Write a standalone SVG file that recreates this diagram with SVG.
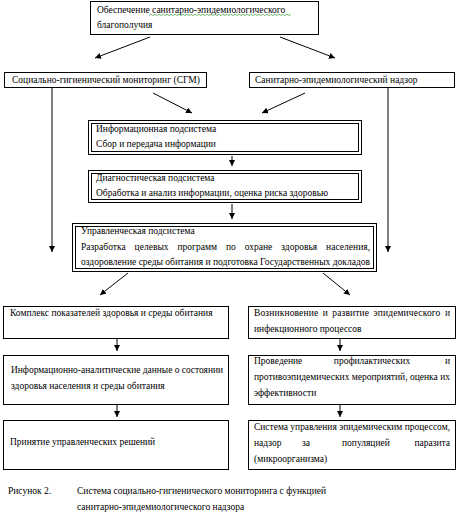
<svg xmlns="http://www.w3.org/2000/svg" width="458" height="514" viewBox="0 0 458 514">
<style>
.b{fill:#fff;stroke:#000;stroke-width:1}
.bi{fill:none;stroke:#000;stroke-width:1}
.t{font-family:"Liberation Serif","Times New Roman",serif;font-size:9.5px;fill:#000}
.e{text-anchor:end}
.m{text-anchor:middle}
.c{stroke:#000;stroke-width:1;fill:none;marker-end:url(#ah)}
</style>
<defs>
<marker id="ah" markerUnits="userSpaceOnUse" markerWidth="7" markerHeight="7" refX="6" refY="3" orient="auto">
<path d="M0,0 L6,3 L0,6 Z" fill="#000"/>
</marker>
</defs>
<rect width="458" height="514" fill="#fff"/>
<g id="connectors">
<line class="c" x1="150" y1="37" x2="95" y2="58"/>
<line class="c" x1="280" y1="37" x2="335" y2="58"/>
<line class="c" x1="153" y1="93" x2="192" y2="113"/>
<line class="c" x1="305" y1="93" x2="262" y2="113"/>
<line class="c" x1="52" y1="88" x2="52" y2="252"/>
<line class="c" x1="388" y1="88" x2="388" y2="252"/>
<line class="c" x1="232" y1="156" x2="232" y2="166"/>
<line class="c" x1="232" y1="204" x2="232" y2="219"/>
<line class="c" x1="128" y1="273" x2="100" y2="295"/>
<line class="c" x1="323" y1="273" x2="350" y2="295"/>
<line class="c" x1="117" y1="339" x2="117" y2="351"/>
<line class="c" x1="340" y1="339" x2="340" y2="351"/>
<line class="c" x1="117" y1="405" x2="117" y2="417"/>
<line class="c" x1="340" y1="405" x2="340" y2="417"/>
</g>
<g id="top">
<rect class="b" x="90.5" y="1.5" width="228" height="33"/>
<text class="t" x="97" y="13">Обеспечение санитарно-эпидемиологического</text>
<path d="M149,15.5 l2,-1.2 l2,1.2 l2,-1.2 l2,1.2 l2,-1.2 l2,1.2 l2,-1.2 l2,1.2 l2,-1.2 l2,1.2 l2,-1.2 l2,1.2 l2,-1.2 l2,1.2 l2,-1.2 l2,1.2 l2,-1.2 l2,1.2 l2,-1.2 l2,1.2 l2,-1.2 l2,1.2 l2,-1.2 l2,1.2 l2,-1.2 l2,1.2 l2,-1.2 l2,1.2 l2,-1.2 l2,1.2 l2,-1.2 l2,1.2 l2,-1.2 l2,1.2 l2,-1.2 l2,1.2 l2,-1.2 l2,1.2 l2,-1.2 l2,1.2 l2,-1.2 l2,1.2 l2,-1.2 l2,1.2 l2,-1.2 l2,1.2 l2,-1.2 l2,1.2 l2,-1.2 l2,1.2 l2,-1.2 l2,1.2 l2,-1.2 l2,1.2 l2,-1.2 l2,1.2 l2,-1.2 l2,1.2 l2,-1.2 l2,1.2 l2,-1.2 l2,1.2 l2,-1.2 l2,1.2 l2,-1.2 l2,1.2 l2,-1.2 l2,1.2 l2,-1.2 l2,1.2 l2,-1.2" fill="none" stroke="#3a9a3a" stroke-width="0.7"/>
<text class="t" x="97" y="28">благополучия</text>
</g>
<g id="sgm">
<rect class="b" x="4.5" y="72.5" width="202" height="15"/>
<text class="t" x="12" y="83">Социально-гигиенический мониторинг (СГМ)</text>
</g>
<g id="nadzor">
<rect class="b" x="249.5" y="72.5" width="205" height="15"/>
<text class="t" x="255" y="83">Санитарно-эпидемиологический надзор</text>
</g>
<g id="info">
<rect class="b" x="88.5" y="120.5" width="273" height="34"/>
<rect class="bi" x="91.5" y="123.5" width="267" height="28"/>
<text class="t" x="96" y="132">Информационная подсистема</text>
<text class="t" x="96" y="147">Сбор и передача информации</text>
</g>
<g id="diag">
<rect class="b" x="88.5" y="170.5" width="273" height="32"/>
<rect class="bi" x="91.5" y="173.5" width="267" height="26"/>
<text class="t" x="96" y="181">Диагностическая подсистема</text>
<text class="t" x="96" y="196">Обработка и анализ информации, оценка риска здоровью</text>
</g>
<g id="mgmt">
<rect class="b" x="72.5" y="223.5" width="304" height="48"/>
<rect class="bi" x="75.5" y="226.5" width="298" height="42"/>
<text class="t" x="81" y="234">Управленческая подсистема</text>
<text class="t" x="81" y="250" word-spacing="6.5" textLength="289" lengthAdjust="spacing">Разработка целевых программ по охране здоровья населения,</text>
<text class="t" x="81" y="265" textLength="289" lengthAdjust="spacingAndGlyphs">оздоровление среды обитания и подготовка Государственных докладов</text>
</g>
<g id="kompleks">
<rect class="b" x="3.5" y="306.5" width="225" height="32"/>
<text class="t" x="10" y="316">Комплекс показателей здоровья и среды обитания</text>
</g>
<g id="vozn">
<rect class="b" x="248.5" y="306.5" width="207" height="32"/>
<text class="t" x="254" y="316" word-spacing="1.9" textLength="196" lengthAdjust="spacing">Возникновение и развитие эпидемического и</text>
<text class="t" x="254" y="332">инфекционного процессов</text>
</g>
<g id="infoan">
<rect class="b" x="3.5" y="355.5" width="225" height="49"/>
<text class="t" x="11" y="373" textLength="212" lengthAdjust="spacingAndGlyphs">Информационно-аналитические данные о состоянии</text>
<text class="t" x="11" y="389">здоровья населения и среды обитания</text>
</g>
<g id="prof">
<rect class="b" x="248.5" y="355.5" width="207" height="49"/>
<text class="t" x="254" y="364">Проведение</text>
<text class="t m" x="372" y="364">профилактических</text>
<text class="t e" x="450" y="364">и</text>
<text class="t" x="254" y="380" textLength="196" lengthAdjust="spacingAndGlyphs">противоэпидемических мероприятий, оценка их</text>
<text class="t" x="254" y="396">эффективности</text>
</g>
<g id="reshen">
<rect class="b" x="3.5" y="420.5" width="225" height="49"/>
<text class="t" x="10" y="445">Принятие управленческих решений</text>
</g>
<g id="sistema">
<rect class="b" x="248.5" y="420.5" width="207" height="49"/>
<text class="t" x="254" y="430" textLength="196" lengthAdjust="spacingAndGlyphs">Система управления эпидемическим процессом,</text>
<text class="t" x="254" y="446">надзор</text>
<text class="t" x="302" y="446">за</text>
<text class="t" x="342" y="446">популяцией</text>
<text class="t e" x="450" y="446">паразита</text>
<text class="t" x="254" y="462">(микроорганизма)</text>
</g>
<g id="caption">
<text class="t" x="8" y="494">Рисунок 2.</text>
<text class="t" x="77" y="494">Система социально-гигиенического мониторинга с функцией</text>
<text class="t" x="77" y="510">санитарно-эпидемиологического надзора</text>
</g>
</svg>
